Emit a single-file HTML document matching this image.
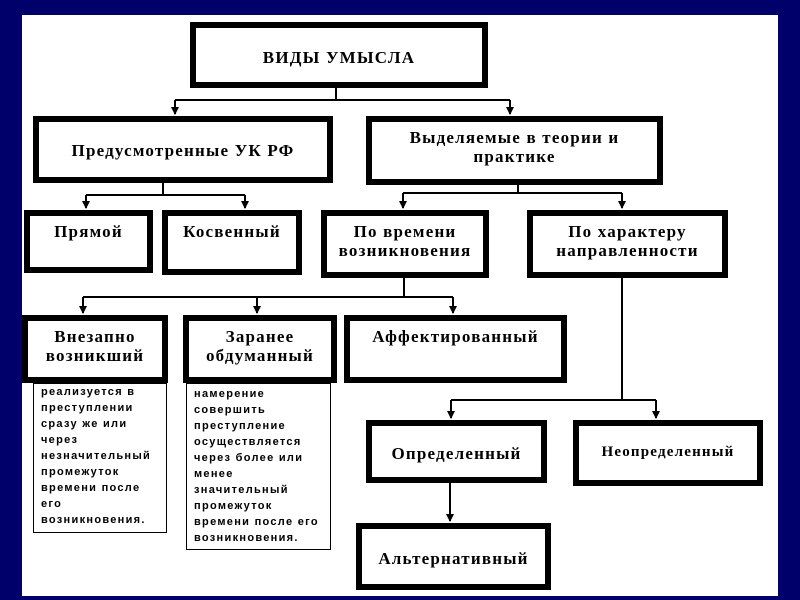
<!DOCTYPE html>
<html><head><meta charset="utf-8"><style>
body{margin:0;width:800px;height:600px;background:#00006a;position:relative;overflow:hidden;font-family:"Liberation Serif","DejaVu Serif",serif}
.w{position:absolute;left:22px;top:15px;width:756px;height:581px;background:#fff}
.b{position:absolute;box-sizing:border-box;border:6px solid #000;background:#fff;font-weight:bold;font-size:17px;letter-spacing:1.2px;text-align:center;line-height:19px;color:#000;white-space:nowrap}
.t{position:absolute;box-sizing:border-box;border:1px solid #000;background:#fff;font-family:"Liberation Sans",sans-serif;font-weight:bold;font-size:11px;line-height:16px;padding:0 0 0 7px;letter-spacing:1.3px;white-space:nowrap}
svg{position:absolute;left:0;top:0}
</style></head><body>
<div class="w"></div>
<svg width="800" height="600">
<defs><marker id="a" markerWidth="8" markerHeight="8" refX="4" refY="7" orient="0" markerUnits="userSpaceOnUse"><path d="M0,0 L8,0 L4,8 z" fill="#000"/></marker></defs>
<g stroke="#000" stroke-width="2" fill="none">
<path d="M336 88V100M175 100H510"/>
<path d="M175 100V114" marker-end="url(#a)"/><path d="M510 100V114" marker-end="url(#a)"/>
<path d="M163 183V195M86 195H245"/>
<path d="M86 195V208" marker-end="url(#a)"/><path d="M245 195V208" marker-end="url(#a)"/>
<path d="M518 185V193M403 193H622"/>
<path d="M403 193V208" marker-end="url(#a)"/><path d="M622 193V208" marker-end="url(#a)"/>
<path d="M404 278V297M83 297H453"/>
<path d="M83 297V313" marker-end="url(#a)"/><path d="M257 297V313" marker-end="url(#a)"/><path d="M453 297V313" marker-end="url(#a)"/>
<path d="M622 278V400M451 400H656"/>
<path d="M451 400V418" marker-end="url(#a)"/><path d="M656 400V418" marker-end="url(#a)"/>
<path d="M450 483V521" marker-end="url(#a)"/>
</g></svg>
<div class="b" style="left:190px;top:22px;width:298px;height:66px;padding-top:20px">ВИДЫ УМЫСЛА</div>
<div class="b" style="left:33px;top:116px;width:300px;height:67px;padding-top:19px">Предусмотренные УК РФ</div>
<div class="b" style="left:366px;top:116px;width:297px;height:69px;padding-top:6px">Выделяемые в теории и<br>практике</div>
<div class="b" style="left:24px;top:210px;width:129px;height:63px;padding-top:6px">Прямой</div>
<div class="b" style="left:162px;top:210px;width:140px;height:65px;padding-top:6px">Косвенный</div>
<div class="b" style="left:321px;top:210px;width:168px;height:68px;padding-top:6px">По времени<br>возникновения</div>
<div class="b" style="left:527px;top:210px;width:201px;height:68px;padding-top:6px">По характеру<br>направленности</div>
<div class="b" style="left:22px;top:315px;width:146px;height:68px;padding-top:6px">Внезапно<br>возникший</div>
<div class="b" style="left:183px;top:315px;width:154px;height:68px;padding-top:6px">Заранее<br>обдуманный</div>
<div class="b" style="left:344px;top:315px;width:223px;height:68px;padding-top:6px">Аффектированный</div>
<div class="t" style="left:33px;top:383px;width:134px;height:150px">реализуется в<br>преступлении<br>сразу же или<br>через<br>незначительный<br>промежуток<br>времени после<br>его<br>возникновения.</div>
<div class="t" style="left:186px;top:383px;width:145px;height:167px;padding-top:2px">намерение<br>совершить<br>преступление<br>осуществляется<br>через более или<br>менее<br>значительный<br>промежуток<br>времени после его<br>возникновения.</div>
<div class="b" style="left:366px;top:420px;width:181px;height:63px;padding-top:18px">Определенный</div>
<div class="b" style="left:573px;top:420px;width:190px;height:66px;padding-top:17px;font-size:15px">Неопределенный</div>
<div class="b" style="left:356px;top:523px;width:195px;height:67px;padding-top:20px">Альтернативный</div>
</body></html>
